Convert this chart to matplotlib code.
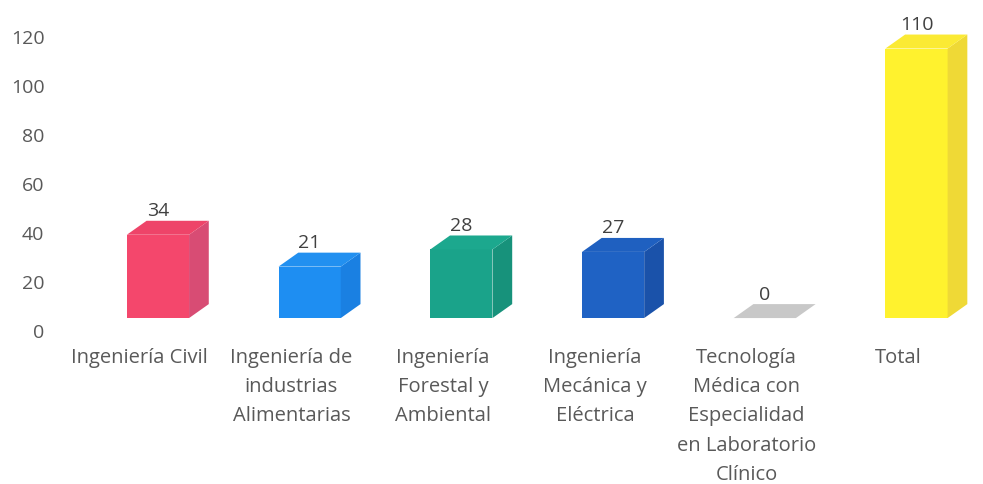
import matplotlib.pyplot as plt
from matplotlib.patches import Polygon, Rectangle

# data
categories = [
    "Ingeniería Civil",
    "Ingeniería de\nindustrias\nAlimentarias",
    "Ingeniería\nForestal y\nAmbiental",
    "Ingeniería\nMecánica y\nEléctrica",
    "Tecnología\nMédica con\nEspecialidad\nen Laboratorio\nClínico",
    "Total",
]
values = [34, 21, 28, 27, 0, 110]
front_colors = ["#F4476C", "#1E8EF2", "#1AA38A", "#1F62C4", "#CFCFCF", "#FFF22E"]
side_colors = ["#D84C74", "#1A80E2", "#17927B", "#1A52AA", "#BDBDBD", "#EFD936"]
top_colors = ["#EE4469", "#2290F0", "#1CA88E", "#1F60C0", "#C8C8C8", "#FBEA34"]
yticks = [0, 20, 40, 60, 80, 100, 120]

plt.rcParams["font.family"] = ["Open Sans", "DejaVu Sans"]

fig = plt.figure(figsize=(9.83, 4.84), dpi=100)
ax = fig.add_axes([0.065, 0.316, 0.926, 0.643])

# 3d-ish box geometry in data units
shift = 0.12   # front face offset from category centre
width = 0.41
depth_x = 0.13
depth_y = 5.7
base = 5.3

for i, v in enumerate(values):
    x0 = i + shift - width / 2
    x1 = x0 + width
    y0 = base
    y1 = base + v
    if v > 0:
        ax.add_patch(Rectangle((x0, y0), width, v, facecolor=front_colors[i],
                               edgecolor="none"))
        ax.add_patch(Polygon([(x1, y0), (x1 + depth_x, y0 + depth_y),
                              (x1 + depth_x, y1 + depth_y), (x1, y1)],
                             facecolor=side_colors[i], edgecolor="none"))
    ax.add_patch(Polygon([(x0, y1), (x0 + depth_x, y1 + depth_y),
                          (x1 + depth_x, y1 + depth_y), (x1, y1)],
                         facecolor=top_colors[i], edgecolor="none"))
    ax.text(i + shift, y1 + depth_y + 0.2, str(v), ha="center", va="bottom",
            fontsize=14, color="#404040")

ax.set_xlim(-0.5, 5.5)
ax.set_ylim(0, 127)
ax.set_yticks(yticks)
ax.set_yticklabels([str(t) for t in yticks], fontsize=14, color="#595959")
ax.set_xticks(range(len(categories)))
ax.set_xticklabels(categories, fontsize=14.5, color="#595959", linespacing=1.62,
                   va="top")
ax.tick_params(length=0)
ax.tick_params(axis="x", pad=12)
ax.tick_params(axis="y", pad=14)
for s in ax.spines.values():
    s.set_visible(False)

fig.savefig("out.png", dpi=100)
